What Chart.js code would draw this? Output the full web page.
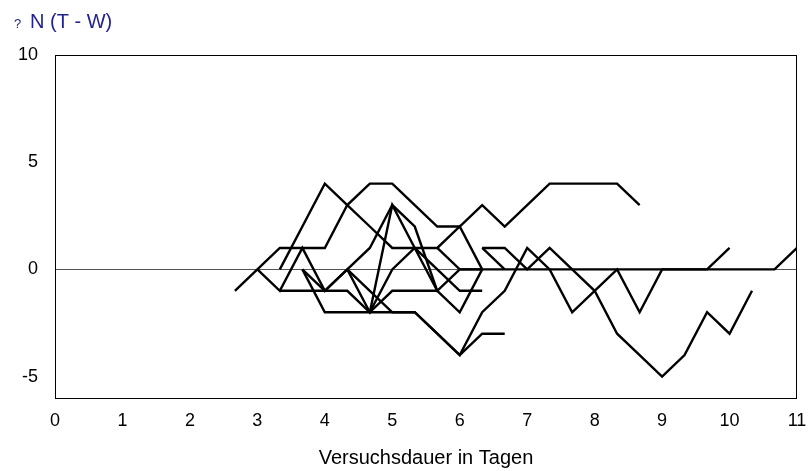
<!DOCTYPE html>
<html>
<head>
<meta charset="utf-8">
<script src="https://cdn.jsdelivr.net/npm/chart.js@4"></script>
<style>
  body { margin: 0; background: #fff; }
</style>
</head>
<body>
<canvas id="chart" width="811" height="471"></canvas>
<script>
// Tage (Messpunkte alle 1/3 Tag)
const days = [2.667, 3, 3.333, 3.667, 4, 4.333, 4.667, 5, 5.333, 5.667, 6, 6.333, 6.667,
  7, 7.333, 7.667, 8, 8.333, 8.667, 9, 9.333, 9.667, 10, 10.333, 10.667, 11];

// ΔN (T - W) je Versuch
const serieA = [-1, 0, 1, 1, 1, 3, 4, 4, 3, 2, 2, 3, 2, 3, 4, 4, 4, 4, 3, null, null, null, null, null, null, null];
const serieB = [null, null, 0, 2, 4, 3, 2, 1, 1, 1, 2, 0, null, null, null, null, null, null, null, null, null, null, null, null, null, null];
const serieC = [null, 0, -1, 1, -1, 0, 1, 3, 2, -1, -2, 0, null, null, null, null, null, null, null, null, null, null, null, null, null, null];
const serieD = [null, null, -1, -1, -1, -1, -2, -2, -2, -3, -4, -3, -3, null, null, null, null, null, null, null, null, null, null, null, null, null];
const serieE = [null, null, null, 0, -2, -2, -2, 3, 1, -1, 0, 0, null, null, null, null, null, null, null, null, null, null, null, null, null, null];
const serieF = [null, null, null, 0, -1, 0, -2, 0, 1, 0, -1, -1, null, null, null, null, null, null, null, null, null, null, null, null, null, null];
const serieG = [null, null, null, null, null, 0, -1, -2, -2, -3, -4, -2, -1, 1, 0, -2, -1, 0, -2, 0, 0, 0, 1, null, null, null];
const serieH = [null, null, null, null, null, null, -2, -1, -1, -1, null, null, null, null, null, null, null, null, null, null, null, null, null, null, null, null];
const serieI = [null, null, null, null, null, null, null, null, null, 1, 0, 0, 0, 0, 0, 0, 0, 0, 0, 0, 0, 0, 0, 0, 0, 1];
const serieP = [null, null, null, null, null, null, null, null, null, null, null, 1, 1, 0, 1, 0, -1, -3, -4, -5, -4, -2, -3, -1, null, null];
const serieQ = [null, null, null, null, null, null, null, null, null, null, null, 1, 0, null, null, null, null, null, null, null, null, null, null, null, null, null];

const xTicks = [0, 1, 2, 3, 4, 5, 6, 7, 8, 9, 10, 11];
const yTicks = [-5, 0, 5, 10];

const alleSerien = [serieA, serieB, serieC, serieD, serieE, serieF, serieG, serieH, serieI, serieP, serieQ];

Chart.defaults.font.family = "'Liberation Sans', Arial, sans-serif";
Chart.defaults.color = '#000';

// Rahmen um die Zeichenfläche und Achsentitel oben links
const rahmen = {
  id: 'rahmen',
  beforeDatasetsDraw(chart) {
    const { ctx, chartArea: a } = chart;
    ctx.save();
    ctx.strokeStyle = '#000';
    ctx.lineWidth = 1;
    ctx.strokeRect(a.left + 0.5, a.top + 0.5, a.right - a.left - 1, a.bottom - a.top);
    ctx.restore();
  },
  afterDraw(chart) {
    const ctx = chart.ctx;
    ctx.save();
    ctx.fillStyle = '#22228c';
    ctx.textBaseline = 'alphabetic';
    ctx.font = "13px 'Liberation Sans', Arial, sans-serif";
    ctx.fillText('?', 14, 28);
    ctx.font = "20px 'Liberation Sans', Arial, sans-serif";
    ctx.fillText('N (T - W)', 30, 28);
    ctx.restore();
  }
};

new Chart(document.getElementById('chart'), {
  type: 'line',
  data: {
    datasets: alleSerien.map(s => ({
      data: s.map((v, i) => ({ x: days[i], y: v })),
      borderColor: '#000',
      borderWidth: 2.4,
      pointRadius: 0,
      tension: 0,
      fill: false,
      spanGaps: false
    }))
  },
  options: {
    responsive: false,
    animation: false,
    layout: { padding: { top: 55, right: 14, left: 0, bottom: 0 } },
    plugins: { legend: { display: false }, tooltip: { enabled: false } },
    scales: {
      x: {
        type: 'linear',
        min: 0,
        max: 11,
        afterBuildTicks: axis => { axis.ticks = xTicks.map(v => ({ value: v })); },
        afterFit: axis => {
          axis.height = 73;
          axis.paddingLeft = 0;
          axis.paddingRight = 0;
        },
        grid: { display: false, drawTicks: false },
        border: { display: false },
        ticks: { font: { size: 18 }, padding: 12 },
        title: {
          display: true,
          text: 'Versuchsdauer in Tagen',
          font: { size: 20 },
          padding: { top: 0, bottom: 1 }
        }
      },
      y: {
        min: -6,
        max: 10,
        afterBuildTicks: axis => { axis.ticks = yTicks.map(v => ({ value: v })); },
        afterFit: axis => { axis.width = 55; },
        grid: {
          drawTicks: false,
          color: c => (c.tick && c.tick.value === 0 ? '#555' : 'rgba(0,0,0,0)'),
          lineWidth: 1
        },
        border: { display: false },
        ticks: { font: { size: 18 }, padding: 17 }
      }
    }
  },
  plugins: [rahmen]
});
</script>
</body>
</html>
